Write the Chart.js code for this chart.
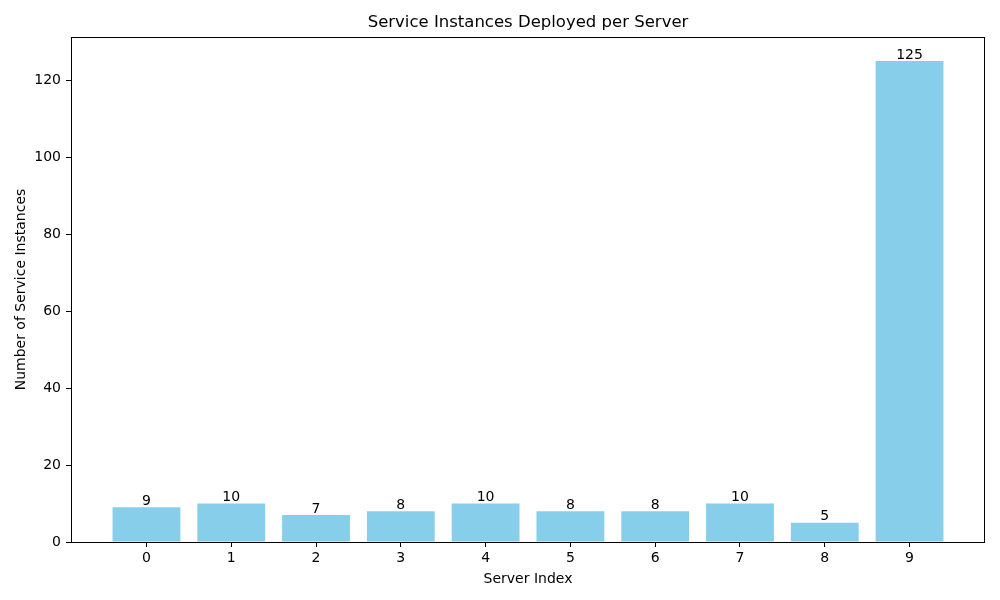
<!DOCTYPE html>
<html>
<head>
<meta charset="utf-8">
<script src="https://cdn.jsdelivr.net/npm/chart.js@4/dist/chart.umd.min.js"></script>
<style>
  html, body { margin: 0; padding: 0; background: #fff; }
  #wrap { width: 1000px; height: 600px; }
</style>
</head>
<body>
<div id="wrap"><canvas id="chart" width="1000" height="600"></canvas></div>
<script>
// Data
const servers = [0, 1, 2, 3, 4, 5, 6, 7, 8, 9];
const instances = [9, 10, 7, 8, 10, 8, 8, 10, 5, 125];
const yTicks = [0, 20, 40, 60, 80, 100, 120];

const FONT = "'DejaVu Sans', sans-serif";

// Bar value labels, frame and title
const extras = {
    id: 'extras',
    afterDatasetsDraw(chart) {
        const ctx = chart.ctx;
        const x = chart.scales.x, y = chart.scales.y;
        const area = chart.chartArea;
        ctx.save();
        ctx.fillStyle = '#000';
        ctx.font = '14px ' + FONT;
        ctx.textAlign = 'center';
        ctx.textBaseline = 'bottom';
        instances.forEach((v, i) => {
            ctx.fillText(String(v), x.getPixelForValue(servers[i]), y.getPixelForValue(v) + 1);
        });
        ctx.strokeStyle = '#000';
        ctx.lineWidth = 1;
        ctx.strokeRect(area.left + 0.5, area.top + 0.5, area.right - area.left - 1, area.bottom - area.top);
        ctx.font = '16.5px ' + FONT;
        ctx.textBaseline = 'middle';
        ctx.fillText('Service Instances Deployed per Server', (area.left + area.right) / 2, 23);
        ctx.restore();
    }
};

const ctx = document.getElementById('chart').getContext('2d');
const chart = new Chart(ctx, {
    type: 'bar',
    data: {
        datasets: [{
            data: servers.map((s, i) => ({ x: s, y: instances[i] })),
            backgroundColor: '#87ceeb',
            borderWidth: 0,
            categoryPercentage: 1,
            barPercentage: 0.8
        }]
    },
    options: {
        responsive: false,
        animation: false,
        layout: { padding: { top: 37, right: 15, left: 0, bottom: 0 } },
        plugins: { legend: { display: false }, tooltip: { enabled: false } },
        scales: {
            x: {
                type: 'linear',
                offset: false,
                min: -0.89,
                max: 9.89,
                afterBuildTicks: axis => { axis.ticks = servers.map(v => ({ value: v })); },
                afterFit: axis => { axis.height = 58; },
                grid: { offset: false, drawOnChartArea: false, drawTicks: true, tickLength: 5, color: '#000' },
                border: { display: false },
                ticks: { color: '#000', font: { family: FONT, size: 14 }, padding: 3, maxRotation: 0 },
                title: { display: true, text: 'Server Index', color: '#000', font: { family: FONT, size: 14 }, padding: { top: 2, bottom: 12 } }
            },
            y: {
                min: 0,
                max: 131.25,
                afterBuildTicks: axis => { axis.ticks = yTicks.map(v => ({ value: v })); },
                afterFit: axis => { axis.width = 71; },
                grid: { drawOnChartArea: false, drawTicks: true, tickLength: 5, color: '#000' },
                border: { display: false },
                ticks: { color: '#000', font: { family: FONT, size: 14 }, padding: 5 },
                title: { display: true, text: 'Number of Service Instances', color: '#000', font: { family: FONT, size: 14 }, padding: { top: 13, bottom: 0 } }
            }
        }
    },
    plugins: [extras]
});
</script>
</body>
</html>
